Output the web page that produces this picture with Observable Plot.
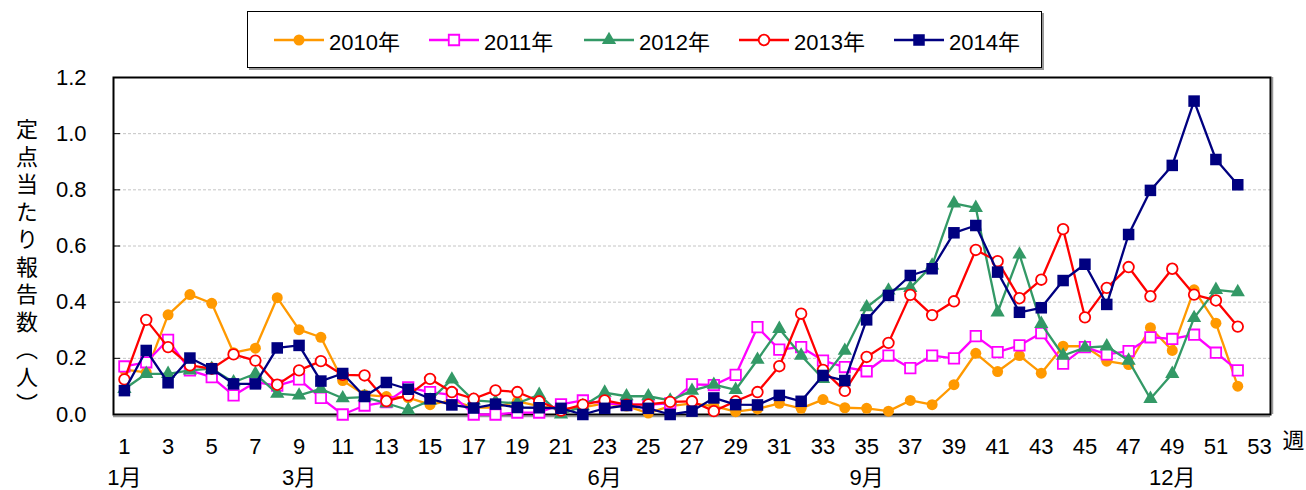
<!DOCTYPE html>
<html><head><meta charset="utf-8">
<script src="https://cdn.jsdelivr.net/npm/d3@7"></script>
<script src="https://cdn.jsdelivr.net/npm/@observablehq/plot@0.6"></script>
<style>
body{margin:0;background:#fff;font-family:"Liberation Sans",Arial,"Noto Sans CJK JP",sans-serif;}
#wrap{position:relative;width:1306px;height:490px;overflow:hidden;}
#legendArea{position:relative;height:70px;}
#legend{position:absolute;left:247px;top:11px;width:793px;height:55px;border:1.5px solid #000;box-shadow:2px 2px 0 #999;background:#fff;}
.item{position:absolute;top:0;height:55px;display:flex;align-items:center;font-size:22px;color:#000;}
.item svg{margin-right:5px;}
</style></head>
<body>
<div id="wrap">
  <div id="legendArea"><div id="legend"></div></div>
  <div id="chart"></div>
</div>
<script>
// ---- data ----
const weeks = d3.range(1, 53);
const years = ["2010年", "2011年", "2012年", "2013年", "2014年"];
const s2010 = [0.16,0.15,0.355,0.427,0.396,0.22,0.236,0.416,0.302,0.275,0.121,0.07,0.064,0.06,0.035,0.05,0.025,0.025,0.047,0.03,0.02,0.025,0.04,0.03,0.005,0.03,0.04,0.03,0.01,0.02,0.04,0.022,0.053,0.024,0.022,0.012,0.05,0.035,0.106,0.218,0.153,0.21,0.147,0.243,0.243,0.19,0.178,0.309,0.228,0.444,0.325,0.101];
const s2011 = [0.171,0.186,0.266,0.157,0.133,0.068,0.115,0.103,0.125,0.059,0.0,0.032,0.044,0.097,0.08,0.07,0.0,0.0,0.007,0.007,0.036,0.05,0.04,0.035,0.035,0.04,0.107,0.105,0.141,0.311,0.231,0.24,0.192,0.169,0.154,0.21,0.165,0.21,0.2,0.279,0.222,0.246,0.29,0.181,0.24,0.214,0.226,0.275,0.269,0.284,0.22,0.157];
const s2012 = [0.091,0.145,0.145,0.157,0.163,0.115,0.145,0.074,0.068,0.091,0.058,0.062,0.04,0.016,0.05,0.125,0.05,0.045,0.04,0.07,0.0,0.03,0.078,0.065,0.065,0.05,0.085,0.106,0.088,0.195,0.305,0.21,0.127,0.227,0.382,0.442,0.451,0.531,0.752,0.736,0.364,0.57,0.323,0.21,0.238,0.243,0.192,0.056,0.145,0.344,0.444,0.436];
const s2013 = [0.125,0.337,0.24,0.175,0.163,0.214,0.192,0.106,0.157,0.19,0.141,0.139,0.048,0.068,0.127,0.08,0.056,0.086,0.08,0.047,0.014,0.035,0.05,0.035,0.036,0.045,0.047,0.012,0.047,0.08,0.172,0.359,0.159,0.084,0.205,0.255,0.426,0.354,0.403,0.586,0.546,0.414,0.48,0.66,0.346,0.451,0.525,0.421,0.519,0.427,0.406,0.313];
const s2014 = [0.085,0.228,0.113,0.201,0.163,0.109,0.109,0.237,0.246,0.119,0.146,0.064,0.114,0.09,0.056,0.034,0.023,0.037,0.025,0.024,0.022,0.0,0.022,0.032,0.022,0.0,0.012,0.059,0.035,0.034,0.068,0.047,0.139,0.121,0.337,0.424,0.495,0.519,0.647,0.673,0.507,0.364,0.38,0.477,0.535,0.392,0.641,0.798,0.887,1.116,0.908,0.818];
const xTickWeeks = d3.range(1, 54, 2);
const yTicks = [0, 0.2, 0.4, 0.6, 0.8, 1.0, 1.2];
const gridVals = [0.2, 0.4, 0.6, 0.8, 1.0];
const monthWeeks = [1, 9, 23, 35, 49];
const monthLabels = ["1月", "3月", "6月", "9月", "12月"];
const weekUnit = "週";
const yTitle = "定点当たり報告数（人）";

// ---- styles ----
const seriesStyle = [
  {data: s2010, color: "#FF9900", symbol: "circle", r: 5.5, fill: "#FF9900", stroke: "none"},
  {data: s2011, color: "#FF00FF", symbol: "square", r: 5.9, fill: "#fff", stroke: "#FF00FF"},
  {data: s2012, color: "#339966", symbol: "triangle", r: 5.3, fill: "#339966", stroke: "none"},
  {data: s2013, color: "#FF0000", symbol: "circle", r: 5.3, fill: "#fff", stroke: "#FF0000"},
  {data: s2014, color: "#000080", symbol: "square", r: 6.5, fill: "#000080", stroke: "none"}
];

const tables = seriesStyle.map((s, k) => s.data.map((v, i) => ({week: weeks[i], value: v, year: years[k]})));

const seriesMarks = seriesStyle.flatMap((s, k) => [
  Plot.line(tables[k], {x: "week", y: "value", stroke: s.color, strokeWidth: 2.3}),
  Plot.dot(tables[k], {x: "week", y: "value", symbol: () => s.symbol, r: s.r, fill: s.fill, stroke: s.stroke, strokeWidth: 1.8})
]);

const font = '"Liberation Sans", Arial, "Noto Sans CJK JP", sans-serif';

const chart = Plot.plot({
  width: 1306, height: 420,
  marginLeft: 113, marginRight: 36, marginTop: 7, marginBottom: 76,
  style: {fontFamily: font, fontSize: "22px", overflow: "visible", background: "transparent", color: "#000"},
  x: {domain: [0.5, 53.5], axis: null},
  y: {domain: [0, 1.2], axis: null},
  symbol: {type: "identity"},
  marks: [
    Plot.ruleY(gridVals, {stroke: "#c4c4c4", strokeDasharray: "3,2", strokeWidth: 1}),
    Plot.ruleY(yTicks, {x1: 0.5, x2: 0.82, stroke: "#000", strokeWidth: 1}),
    Plot.ruleX([53.5], {stroke: "#999", dx: 2, strokeWidth: 1.5}),
    Plot.ruleY([0], {stroke: "#999", dy: 2, strokeWidth: 1.5}),
    Plot.frame({stroke: "#000", strokeWidth: 2}),
    Plot.axisY(yTicks, {tickSize: 0, tickPadding: 27, tickFormat: d => d.toFixed(1), fontSize: 22, label: null}),
    Plot.axisX(xTickWeeks, {tickSize: 0, tickPadding: 32, lineAnchor: "middle", fontSize: 22, label: null}),
    Plot.text(monthWeeks, {x: d => d, text: (d, i) => monthLabels[i], frameAnchor: "bottom", dy: 63, lineAnchor: "middle", fontSize: 22}),
    Plot.text([53], {x: d => d, text: () => weekUnit, frameAnchor: "bottom", dx: 34, dy: 26, lineAnchor: "middle", fontSize: 22}),
    Plot.text([yTitle], {text: d => d, frameAnchor: "left", dx: -89, dy: 16, fontSize: 22}),
    ...seriesMarks
  ]
});

d3.select(chart).selectAll("text").filter(function() { return this.textContent === yTitle; })
  .attr("dy", null)
  .style("writing-mode", "vertical-rl")
  .style("letter-spacing", "5.5px")
  .attr("text-anchor", "middle");

document.getElementById("chart").appendChild(chart);

// ---- legend ----
const legend = d3.select("#legend");
seriesStyle.forEach((s, k) => {
  const item = legend.append("div").attr("class", "item").style("left", (26 + k * 155) + "px");
  const svg = item.append("svg").attr("width", 50).attr("height", 20);
  svg.append("line").attr("x1", 0).attr("x2", 50).attr("y1", 10).attr("y2", 10).attr("stroke", s.color).attr("stroke-width", 2.3);
  const symType = s.symbol === "circle" ? d3.symbolCircle : s.symbol === "square" ? d3.symbolSquare : d3.symbolTriangle;
  svg.append("path").attr("transform", "translate(25,10)")
    .attr("d", d3.symbol(symType, Math.PI * s.r * s.r)())
    .attr("fill", s.fill).attr("stroke", s.stroke).attr("stroke-width", 1.8);
  item.append("span").text(years[k]);
});
</script>
</body></html>
